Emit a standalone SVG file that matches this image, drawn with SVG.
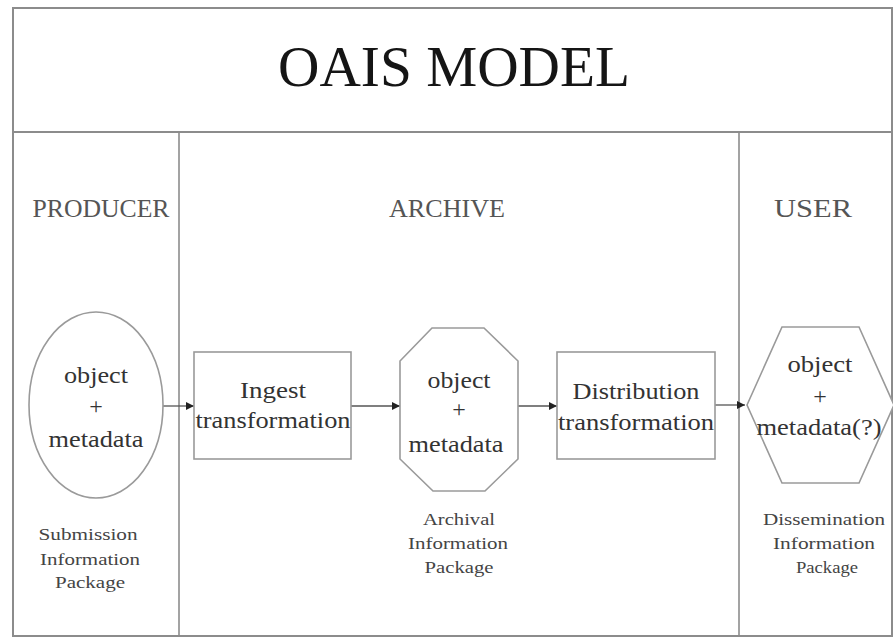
<svg xmlns="http://www.w3.org/2000/svg" width="893" height="638" viewBox="0 0 893 638">
<defs>
<style>
.frame{fill:none;stroke:#8c8c8c;stroke-width:2}
.col{fill:none;stroke:#8c8c8c;stroke-width:1.6}
.shape{fill:#fff;stroke:#9a9a9a;stroke-width:1.6}
.conn{fill:none;stroke:#555;stroke-width:1.3}
.t{font-family:"Liberation Serif","Times New Roman",serif;fill:#333;text-anchor:middle}
.title{font-size:57px;fill:#151515}
.hdr{font-size:25px;fill:#555}
.big{font-size:24px}
.small{font-size:16px;fill:#444}
</style>
<marker id="ah" markerUnits="userSpaceOnUse" markerWidth="9" markerHeight="9" refX="8" refY="4.5" orient="auto">
<path d="M0,0.5 L8,4.5 L0,8.5 z" fill="#222"/>
</marker>
</defs>
<rect width="893" height="638" fill="#fff"/>
<g id="frame">
<rect class="frame" x="13" y="8" width="879" height="628"/>
<line class="frame" x1="13" y1="132" x2="892" y2="132"/>
<line class="col" x1="179" y1="132" x2="179" y2="636"/>
<line class="col" x1="739" y1="132" x2="739" y2="636"/>
<text class="t title" x="454" y="86" textLength="352" lengthAdjust="spacingAndGlyphs">OAIS MODEL</text>
<text class="t hdr" x="101" y="217" textLength="137" lengthAdjust="spacingAndGlyphs">PRODUCER</text>
<text class="t hdr" x="447" y="217" textLength="116" lengthAdjust="spacingAndGlyphs">ARCHIVE</text>
<text class="t hdr" x="813" y="217" textLength="78" lengthAdjust="spacingAndGlyphs">USER</text>
</g>
<g id="connectors">
<line class="conn" x1="163" y1="406" x2="194" y2="406" marker-end="url(#ah)"/>
<line class="conn" x1="351" y1="406" x2="400" y2="406" marker-end="url(#ah)"/>
<line class="conn" x1="518" y1="406" x2="557" y2="406" marker-end="url(#ah)"/>
<line class="conn" x1="715" y1="405" x2="745" y2="405" marker-end="url(#ah)"/>
</g>
<g id="sip">
<ellipse class="shape" cx="96" cy="405" rx="67" ry="93"/>
<text class="t big" x="96" y="383" textLength="64" lengthAdjust="spacingAndGlyphs">object</text>
<text class="t big" x="96" y="414">+</text>
<text class="t big" x="96" y="447" textLength="95" lengthAdjust="spacingAndGlyphs">metadata</text>
<text class="t small" x="88" y="540" textLength="99" lengthAdjust="spacingAndGlyphs">Submission</text>
<text class="t small" x="90" y="565" textLength="100" lengthAdjust="spacingAndGlyphs">Information</text>
<text class="t small" x="90" y="588" textLength="70" lengthAdjust="spacingAndGlyphs">Package</text>
</g>
<g id="ingest">
<rect class="shape" x="194" y="352" width="157" height="107"/>
<text class="t big" x="273" y="398" textLength="66" lengthAdjust="spacingAndGlyphs">Ingest</text>
<text class="t big" x="273" y="428" textLength="155" lengthAdjust="spacingAndGlyphs">transformation</text>
</g>
<g id="aip">
<polygon class="shape" points="432,328 484,328 518,361 518,459 485,491 433,491 400,459 400,361"/>
<text class="t big" x="459" y="388" textLength="63" lengthAdjust="spacingAndGlyphs">object</text>
<text class="t big" x="459" y="417">+</text>
<text class="t big" x="456" y="452" textLength="95" lengthAdjust="spacingAndGlyphs">metadata</text>
<text class="t small" x="459" y="525" textLength="72" lengthAdjust="spacingAndGlyphs">Archival</text>
<text class="t small" x="458" y="549" textLength="100" lengthAdjust="spacingAndGlyphs">Information</text>
<text class="t small" x="459" y="573" textLength="69" lengthAdjust="spacingAndGlyphs">Package</text>
</g>
<g id="distribution">
<rect class="shape" x="557" y="352" width="158" height="107"/>
<text class="t big" x="636" y="399" textLength="127" lengthAdjust="spacingAndGlyphs">Distribution</text>
<text class="t big" x="636" y="430" textLength="156" lengthAdjust="spacingAndGlyphs">transformation</text>
</g>
<g id="dip">
<polygon class="shape" points="747,405 782,327 859,327 894,405 859,483 782,483"/>
<text class="t big" x="820" y="372" textLength="65" lengthAdjust="spacingAndGlyphs">object</text>
<text class="t big" x="820" y="404">+</text>
<text class="t big" x="819" y="435" textLength="125" lengthAdjust="spacingAndGlyphs">metadata(?)</text>
<text class="t small" x="824" y="525" textLength="122" lengthAdjust="spacingAndGlyphs">Dissemination</text>
<text class="t small" x="824" y="549" textLength="102" lengthAdjust="spacingAndGlyphs">Information</text>
<text class="t small" x="827" y="573" textLength="62" lengthAdjust="spacingAndGlyphs">Package</text>
</g>
</svg>
